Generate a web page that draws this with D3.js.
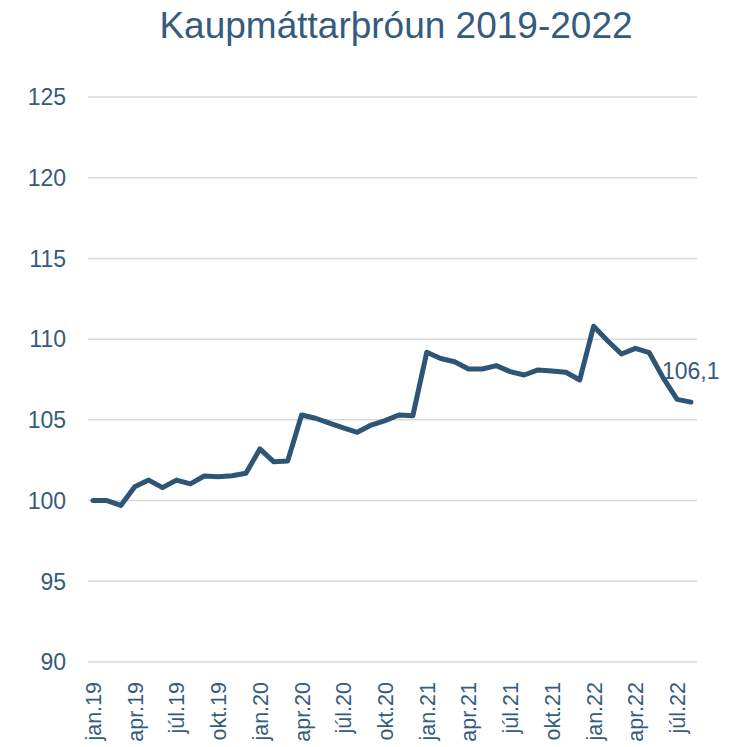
<!DOCTYPE html>
<html>
<head>
<meta charset="utf-8">
<script src="https://cdn.jsdelivr.net/npm/d3@7"></script>
<style>
  body { margin: 0; background: #fff; }
  text { font-family: "Liberation Sans", Arial, sans-serif; }
</style>
</head>
<body>
<div id="chart"></div>
<script>
// mánuðir jan.19 - ágú.22
const monthNames = ['jan', 'feb', 'mar', 'apr', 'maí', 'jún', 'júl', 'ágú', 'sep', 'okt', 'nóv', 'des'];
const years = ['19', '20', '21', '22'];
const categories = [];
years.forEach((y) => {
  monthNames.forEach((m) => {
    if (categories.length < 44) categories.push(`${m}.${y}`);
  });
});

const values = [
  100.0, 100.0, 99.7, 100.86, 101.27, 100.8, 101.27, 101.03, 101.52, 101.48, 101.54, 101.69,
  103.2, 102.4, 102.45, 105.3, 105.1, 104.8, 104.5, 104.23, 104.68, 104.95, 105.3, 105.26,
  109.19, 108.8, 108.6, 108.15, 108.15, 108.36, 107.99, 107.78, 108.09, 108.03, 107.95, 107.47,
  110.8, 109.9, 109.08, 109.43, 109.16, 107.6, 106.27, 106.1
];
const yTicks = [90, 95, 100, 105, 110, 115, 120, 125];
const shownLabels = ['jan', 'apr', 'júl', 'okt'];
const lastLabel = '106,1';
const title = 'Kaupmáttarþróun 2019-2022';

const svgwidth = 742;
const svgheight = 747;
const textColor = '#355b7d';
const lineColor = '#2e5476';
const gridColor = '#d9d9d9';

const svg = d3.select('#chart').append('svg')
  .attr('width', svgwidth)
  .attr('height', svgheight);

const x = d3.scalePoint()
  .domain(categories)
  .range([93, 691]);
const y = d3.scaleLinear()
  .domain([90, 125])
  .range([662, 97]);

// titill
svg.append('text')
  .attr('x', 396)
  .attr('y', 38)
  .attr('text-anchor', 'middle')
  .attr('font-size', 37)
  .attr('fill', textColor)
  .text(title);

// láréttar línur
svg.append('g')
  .selectAll('line')
  .data(yTicks)
  .enter()
  .append('line')
  .attr('x1', 88)
  .attr('x2', 697)
  .attr('y1', d => y(d))
  .attr('y2', d => y(d))
  .attr('stroke', gridColor)
  .attr('stroke-width', 1.5);

// y ás
svg.append('g')
  .selectAll('text')
  .data(yTicks)
  .enter()
  .append('text')
  .attr('x', 66)
  .attr('y', d => y(d))
  .attr('dy', '0.36em')
  .attr('text-anchor', 'end')
  .attr('font-size', 23)
  .attr('fill', textColor)
  .text(d => d);

// x ás
svg.append('g')
  .selectAll('text')
  .data(categories.filter(c => shownLabels.includes(c.split('.')[0])))
  .enter()
  .append('text')
  .attr('transform', d => `translate(${x(d) + 8},682) rotate(-90)`)
  .attr('text-anchor', 'end')
  .attr('font-size', 21.5)
  .attr('fill', textColor)
  .text(d => d);

// ferill
const line = d3.line()
  .x((d, i) => x(categories[i]))
  .y(d => y(d));

svg.append('path')
  .datum(values)
  .attr('d', line)
  .attr('fill', 'none')
  .attr('stroke', lineColor)
  .attr('stroke-width', 5)
  .attr('stroke-linejoin', 'round')
  .attr('stroke-linecap', 'round');

// gildi síðasta punkts
const last = values.length - 1;
svg.append('text')
  .attr('x', x(categories[last]) - 29)
  .attr('y', y(values[last]) - 23)
  .attr('font-size', 23)
  .attr('fill', textColor)
  .text(lastLabel);
</script>
</body>
</html>
